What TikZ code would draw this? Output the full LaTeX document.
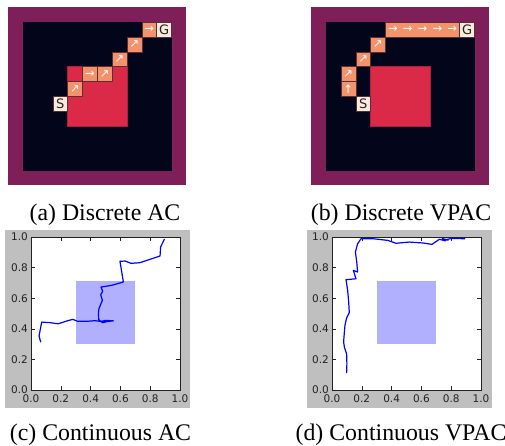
\documentclass[tikz,border=0pt]{standalone}
\usepackage{fontspec}
\setmainfont{Liberation Serif}
\newfontfamily\djv{DejaVu Sans}
\definecolor{cpurple}{HTML}{7E1F5A}
\definecolor{cblack}{HTML}{03051A}
\definecolor{cred}{HTML}{DA2A48}
\definecolor{credline}{HTML}{A8213F}
\definecolor{corange}{HTML}{F3936B}
\definecolor{ccream}{HTML}{FAEBDD}
\definecolor{cgray}{HTML}{BFBFBF}
\definecolor{cobst}{HTML}{B0B0FF}
\definecolor{ctick}{HTML}{222222}
\tikzset{
  orangecell/.style={fill=corange,draw={rgb,255:red,90;green,45;blue,55},line width=0.4pt},
  creamcell/.style={fill=ccream,draw={rgb,255:red,90;green,45;blue,55},line width=0.4pt},
  arr/.style={text=white,font=\djv\fontsize{11.5}{11.5}\selectfont,inner sep=0pt},
  lett/.style={text=ctick,font=\djv\fontsize{13}{13}\selectfont,inner sep=0pt},
  captxt/.style={font=\fontsize{23.8}{28}\selectfont,anchor=base,inner sep=0pt},
  ticklab/.style={font=\djv\fontsize{10.5}{10.5}\selectfont,text=ctick,inner sep=0pt},
  traj/.style={draw=blue,line width=1.2pt,line join=round,line cap=round},
  axbox/.style={draw=ctick,line width=0.6pt},
}
\begin{document}
\begin{tikzpicture}[x=1pt,y=-1pt]
\useasboundingbox (0,0) rectangle (505,445);
% ---------------- (a) Discrete AC ----------------
\begin{scope}[shift={(23pt,-22pt)},x=14.85pt,y=-14.85pt]
  \fill[cpurple] (-1,-1) rectangle (11,11);
  \fill[cblack] (0,0) rectangle (10,10);
  \fill[cred,draw=credline,line width=0.5pt] (3,3) rectangle (7,7);
  \draw[orangecell] (3,4) rectangle (4,5);
  \draw[orangecell] (4,3) rectangle (5,4);
  \draw[orangecell] (5,3) rectangle (6,4);
  \draw[orangecell] (6,2) rectangle (7,3);
  \draw[orangecell] (7,1) rectangle (8,2);
  \draw[orangecell] (8,0) rectangle (9,1);
  \draw[creamcell] (9,0) rectangle (10,1);
  \draw[creamcell] (2,5) rectangle (3,6);
  \node[lett] (aS) at (2.5,5.5) {S};
  \node[lett] (aG) at (9.5,0.5) {G};
  \node[arr] (a1) at (3.5,4.5) {↗};
  \node[arr] (a2) at (4.5,3.5) {→};
  \node[arr] (a3) at (5.5,3.5) {↗};
  \node[arr] (a4) at (6.5,2.5) {↗};
  \node[arr] (a5) at (7.5,1.5) {↗};
  \node[arr] (a6) at (8.5,0.5) {→};
\end{scope}
% ---------------- (b) Discrete VPAC ----------------
\begin{scope}[shift={(326pt,-22pt)},x=14.85pt,y=-14.85pt]
  \fill[cpurple] (-1,-1) rectangle (11,11);
  \fill[cblack] (0,0) rectangle (10,10);
  \fill[cred,draw=credline,line width=0.5pt] (3,3) rectangle (7,7);
  \draw[orangecell] (1,4) rectangle (2,5);
  \draw[orangecell] (1,3) rectangle (2,4);
  \draw[orangecell] (2,2) rectangle (3,3);
  \draw[orangecell] (3,1) rectangle (4,2);
  \draw[orangecell] (4,0) rectangle (9,1);
  \draw[creamcell] (9,0) rectangle (10,1);
  \draw[creamcell] (2,5) rectangle (3,6);
  \node[lett] (bS) at (2.5,5.5) {S};
  \node[lett] (bG) at (9.5,0.5) {G};
  \node[arr] (b1) at (1.5,4.5) {↑};
  \node[arr] (b2) at (1.5,3.5) {↗};
  \node[arr] (b3) at (2.5,2.5) {↗};
  \node[arr] (b4) at (3.5,1.5) {↗};
  \foreach \i in {4,...,8} {\node[arr] (b5\i) at (\i+0.5,0.5) {→};}
\end{scope}
% ---------------- captions ----------------
\node[captxt] (capa) at (105,220) {(a) Discrete AC};
\node[captxt] (capb) at (401,220) {(b) Discrete VPAC};
\node[captxt] (capc) at (100.5,440) {(c) Continuous AC};
\node[captxt] (capd) at (401,440) {(d) Continuous VPAC};
% ---------------- (c) Continuous AC ----------------
\fill[cgray] (5,230) rectangle (190,408);
\begin{scope}[shift={(31pt,-390pt)},x=149pt,y=153pt]
  \fill[white] (0,0) rectangle (1,1);
  \fill[cobst] (0.3,0.3) rectangle (0.7,0.71);
  \draw[traj] plot coordinates {(0.065,0.314) (0.054,0.353) (0.06,0.384) (0.072,0.444) (0.128,0.44) (0.183,0.433) (0.24,0.451) (0.28,0.462) (0.313,0.449) (0.374,0.449) (0.43,0.453) (0.47,0.448) (0.5,0.455) (0.553,0.452) (0.51,0.447) (0.48,0.44) (0.455,0.46) (0.452,0.5) (0.456,0.531) (0.479,0.586) (0.468,0.623) (0.481,0.645) (0.47,0.673) (0.541,0.684) (0.62,0.706) (0.609,0.771) (0.597,0.841) (0.631,0.843) (0.671,0.828) (0.731,0.832) (0.81,0.858) (0.866,0.876) (0.87,0.935) (0.895,0.985)};
  \draw[axbox] (0,0) rectangle (1,1);
  \foreach \v in {0.2,0.4,0.6,0.8} {
    \draw[ctick,line width=0.4pt] (\v,0) -- ++(0,4pt) (\v,1) -- ++(0,-4pt);
    \draw[ctick,line width=0.4pt] (0,\v) -- ++(4pt,0) (1,\v) -- ++(-4pt,0);
  }
  \foreach \v/\t [count=\n] in {0/0.0,0.2/0.2,0.4/0.4,0.6/0.6,0.8/0.8,1/1.0} {
    \node[ticklab,anchor=north] (cx\n) at ([yshift=-4pt]\v,0) {\t};
    \node[ticklab,anchor=east] (cy\n) at ([xshift=-3pt]0,\v) {\t};
  }
\end{scope}
% ---------------- (d) Continuous VPAC ----------------
\fill[cgray] (307,230) rectangle (492,408);
\begin{scope}[shift={(332pt,-390pt)},x=149pt,y=153pt]
  \fill[white] (0,0) rectangle (1,1);
  \fill[cobst] (0.3,0.3) rectangle (0.7,0.71);
  \draw[traj] plot coordinates {(0.098,0.113) (0.1,0.172) (0.098,0.237) (0.083,0.281) (0.078,0.314) (0.083,0.379) (0.087,0.423) (0.098,0.471) (0.116,0.505) (0.112,0.575) (0.105,0.652) (0.094,0.721) (0.161,0.727) (0.143,0.782) (0.172,0.771) (0.166,0.837) (0.157,0.902) (0.172,0.956) (0.195,0.989) (0.273,0.989) (0.374,0.978) (0.43,0.959) (0.519,0.967) (0.609,0.961) (0.671,0.952) (0.72,0.985) (0.76,0.975) (0.74,0.99) (0.78,0.98) (0.75,0.98) (0.8,0.99) (0.891,0.989)};
  \draw[axbox] (0,0) rectangle (1,1);
  \foreach \v in {0.2,0.4,0.6,0.8} {
    \draw[ctick,line width=0.4pt] (\v,0) -- ++(0,4pt) (\v,1) -- ++(0,-4pt);
    \draw[ctick,line width=0.4pt] (0,\v) -- ++(4pt,0) (1,\v) -- ++(-4pt,0);
  }
  \foreach \v/\t [count=\n] in {0/0.0,0.2/0.2,0.4/0.4,0.6/0.6,0.8/0.8,1/1.0} {
    \node[ticklab,anchor=north] (dx\n) at ([yshift=-4pt]\v,0) {\t};
    \node[ticklab,anchor=east] (dy\n) at ([xshift=-3pt]0,\v) {\t};
  }
\end{scope}
\end{tikzpicture}
\end{document}
